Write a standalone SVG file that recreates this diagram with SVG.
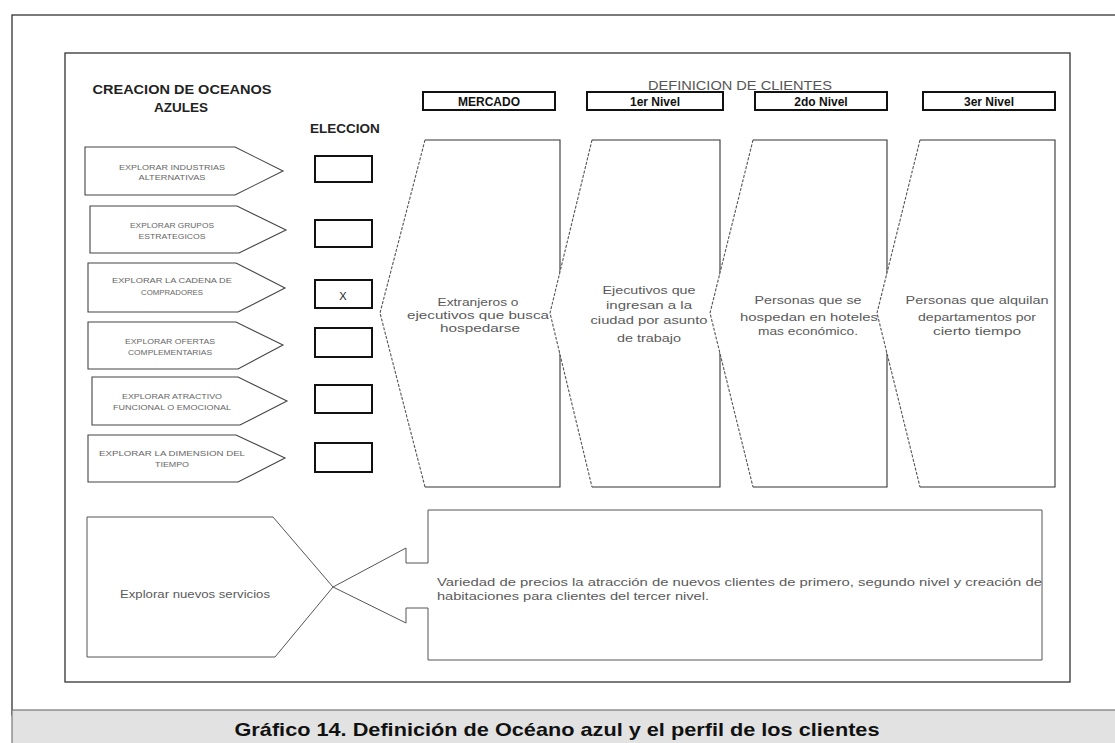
<svg xmlns="http://www.w3.org/2000/svg" width="1115" height="743" viewBox="0 0 1115 743">
<defs>
<style>
.frame{fill:none;stroke:#333;stroke-width:1.3}
.pent{fill:#fff;stroke:#444;stroke-width:1.1}
.ptxt{font-family:"Liberation Sans",Arial,sans-serif;font-size:7px;fill:#666;text-anchor:middle}
.ebox{fill:#fff;stroke:#111;stroke-width:2}
.hbox{fill:#fff;stroke:#111;stroke-width:2}
.htxt{font-family:"Liberation Sans",Arial,sans-serif;font-size:12px;font-weight:bold;fill:#111;text-anchor:middle}
.title{font-family:"Liberation Sans",Arial,sans-serif;font-size:13.5px;font-weight:bold;fill:#222;text-anchor:middle}
.colfill{fill:#fff;stroke:none}
.solid{fill:none;stroke:#333;stroke-width:1.1}
.dash{fill:none;stroke:#555;stroke-width:1.1;stroke-dasharray:3 1.5}
.ctxt{font-family:"Liberation Sans",Arial,sans-serif;font-size:10.5px;fill:#5a5a5a;text-anchor:middle}
.btxt{font-family:"Liberation Sans",Arial,sans-serif;font-size:10px;fill:#5a5a5a}
.thin{fill:#fff;stroke:#555;stroke-width:1}
</style>
</defs>
<rect x="0" y="0" width="1115" height="743" fill="#fff"/>
<!-- outer and inner frames -->
<rect class="frame" x="12" y="15" width="1110" height="700"/>
<rect class="frame" x="65" y="53" width="1005" height="629" stroke-width="1.6"/>

<!-- titles -->
<g id="title-left">
<text class="title" x="182" y="94" textLength="179" lengthAdjust="spacingAndGlyphs">CREACION DE OCEANOS</text>
<text class="title" x="181" y="112">AZULES</text>
</g>
<g id="title-eleccion"><text class="title" x="345" y="133" font-size="13">ELECCION</text></g>
<g id="title-definicion"><text x="740" y="90" font-family="'Liberation Sans',Arial,sans-serif" font-size="12" fill="#555" text-anchor="middle" textLength="184" lengthAdjust="spacingAndGlyphs">DEFINICION DE CLIENTES</text></g>

<!-- header boxes -->
<g id="h-mercado"><rect class="hbox" x="423" y="92" width="132" height="18"/><text class="htxt" x="489" y="106">MERCADO</text></g>
<g id="h-1er"><rect class="hbox" x="587" y="92" width="136" height="18"/><text class="htxt" x="655" y="106">1er Nivel</text></g>
<g id="h-2do"><rect class="hbox" x="755" y="92" width="132" height="18"/><text class="htxt" x="821" y="106">2do Nivel</text></g>
<g id="h-3er"><rect class="hbox" x="923" y="92" width="132" height="18"/><text class="htxt" x="989" y="106">3er Nivel</text></g>

<!-- left pentagons -->
<g id="p1"><polygon class="pent" points="85,147 235,147 283,171 235,195 85,195"/>
<text class="ptxt" x="172" y="170" textLength="106" lengthAdjust="spacingAndGlyphs">EXPLORAR INDUSTRIAS</text>
<text class="ptxt" x="172" y="180" textLength="67" lengthAdjust="spacingAndGlyphs">ALTERNATIVAS</text></g>
<g id="p2"><polygon class="pent" points="90,206 237,206 286,230 239,253 90,253"/>
<text class="ptxt" x="172" y="228" textLength="84" lengthAdjust="spacingAndGlyphs">EXPLORAR GRUPOS</text>
<text class="ptxt" x="172" y="239" textLength="67" lengthAdjust="spacingAndGlyphs">ESTRATEGICOS</text></g>
<g id="p3"><polygon class="pent" points="88,263 236,263 285,288 238,312 88,312"/>
<text class="ptxt" x="172" y="283" textLength="120" lengthAdjust="spacingAndGlyphs">EXPLORAR LA CADENA DE</text>
<text class="ptxt" x="172" y="295" textLength="62" lengthAdjust="spacingAndGlyphs">COMPRADORES</text></g>
<g id="p4"><polygon class="pent" points="88,322 236,322 283,345 238,369 88,369"/>
<text class="ptxt" x="170" y="344" textLength="90" lengthAdjust="spacingAndGlyphs">EXPLORAR OFERTAS</text>
<text class="ptxt" x="170" y="355" textLength="84" lengthAdjust="spacingAndGlyphs">COMPLEMENTARIAS</text></g>
<g id="p5"><polygon class="pent" points="92,377 238,377 287,401 240,425 92,425"/>
<text class="ptxt" x="172" y="399" textLength="100" lengthAdjust="spacingAndGlyphs">EXPLORAR ATRACTIVO</text>
<text class="ptxt" x="172" y="410" textLength="118" lengthAdjust="spacingAndGlyphs">FUNCIONAL O EMOCIONAL</text></g>
<g id="p6"><polygon class="pent" points="88,435 236,435 285,458 238,482 88,482"/>
<text class="ptxt" x="172" y="456" textLength="146" lengthAdjust="spacingAndGlyphs">EXPLORAR LA DIMENSION DEL</text>
<text class="ptxt" x="172" y="467" textLength="34" lengthAdjust="spacingAndGlyphs">TIEMPO</text></g>

<!-- election boxes -->
<g id="e1"><rect class="ebox" x="315" y="156" width="57" height="26"/></g>
<g id="e2"><rect class="ebox" x="315" y="220" width="57" height="27"/></g>
<g id="e3"><rect class="ebox" x="315" y="280" width="57" height="28"/><text x="343" y="300" font-family="'Liberation Sans',Arial,sans-serif" font-size="11" fill="#222" text-anchor="middle">X</text></g>
<g id="e4"><rect class="ebox" x="315" y="328" width="57" height="29"/></g>
<g id="e5"><rect class="ebox" x="315" y="385" width="57" height="28"/></g>
<g id="e6"><rect class="ebox" x="315" y="443" width="57" height="29"/></g>

<!-- columns -->
<g id="col-mercado">
<polygon class="colfill" points="425,140 560,140 560,487 425,487 380,313"/>
<polyline class="solid" points="425,140 560,140 560,487 425,487"/>
<polyline class="dash" points="425,140 380,313 425,487"/>
<text class="ctxt" x="478" y="306" textLength="81" lengthAdjust="spacingAndGlyphs">Extranjeros o</text>
<text class="ctxt" x="478" y="319" textLength="142" lengthAdjust="spacingAndGlyphs">ejecutivos que busca</text>
<text class="ctxt" x="480" y="332" textLength="80" lengthAdjust="spacingAndGlyphs">hospedarse</text>
</g>
<g id="col-1er">
<polygon class="colfill" points="592,140 720,140 720,487 592,487 550,313"/>
<polyline class="solid" points="592,140 720,140 720,487 592,487"/>
<polyline class="dash" points="592,140 550,313 592,487"/>
<text class="ctxt" x="649" y="294" textLength="93" lengthAdjust="spacingAndGlyphs">Ejecutivos que</text>
<text class="ctxt" x="649" y="309" textLength="86" lengthAdjust="spacingAndGlyphs">ingresan a la</text>
<text class="ctxt" x="649" y="324" textLength="117" lengthAdjust="spacingAndGlyphs">ciudad por  asunto</text>
<text class="ctxt" x="649" y="342" textLength="64" lengthAdjust="spacingAndGlyphs">de trabajo</text>
</g>
<g id="col-2do">
<polygon class="colfill" points="753,140 887,140 887,487 753,487 710,313"/>
<polyline class="solid" points="753,140 887,140 887,487 753,487"/>
<polyline class="dash" points="753,140 710,313 753,487"/>
<text class="ctxt" x="808" y="304" textLength="107" lengthAdjust="spacingAndGlyphs">Personas que se</text>
<text class="ctxt" x="809" y="321" textLength="138" lengthAdjust="spacingAndGlyphs">hospedan en hoteles</text>
<text class="ctxt" x="808" y="335" textLength="100" lengthAdjust="spacingAndGlyphs">mas económico.</text>
</g>
<g id="col-3er">
<polygon class="colfill" points="920,140 1055,140 1055,487 920,487 877,313"/>
<polyline class="solid" points="920,140 1055,140 1055,487 920,487"/>
<polyline class="dash" points="920,140 877,313 920,487"/>
<text class="ctxt" x="977" y="304" textLength="143" lengthAdjust="spacingAndGlyphs">Personas que alquilan</text>
<text class="ctxt" x="977" y="321" textLength="118" lengthAdjust="spacingAndGlyphs">departamentos por</text>
<text class="ctxt" x="977" y="335" textLength="88" lengthAdjust="spacingAndGlyphs">cierto tiempo</text>
</g>

<!-- bottom section -->
<g id="b-left">
<polygon class="thin" points="87,517 273,517 333,587 275,657 87,657"/>
<text class="btxt" x="120" y="598" textLength="150" lengthAdjust="spacingAndGlyphs">Explorar nuevos servicios</text>
</g>
<g id="b-right">
<polygon class="thin" points="428,510 1042,510 1042,660 428,660 428,608 406,608 406,623 333,587 406,548 406,563 428,563"/>
<text class="btxt" x="437" y="586" textLength="605" lengthAdjust="spacingAndGlyphs">Variedad de precios la atracción de nuevos clientes de primero, segundo  nivel y creación de</text>
<text class="btxt" x="437" y="600" textLength="272" lengthAdjust="spacingAndGlyphs">habitaciones para clientes del tercer nivel.</text>
</g>
<g id="connectors"></g>

<!-- caption -->
<g id="caption">
<rect x="12" y="710" width="1110" height="37" fill="#e2e2e2" stroke="#777" stroke-width="1.2"/>
<text x="557" y="736" font-family="'Liberation Sans',Arial,sans-serif" font-size="19" font-weight="bold" fill="#111" text-anchor="middle" textLength="645" lengthAdjust="spacingAndGlyphs">Gráfico 14. Definición de Océano azul y el perfil de los clientes</text>
</g>
</svg>
